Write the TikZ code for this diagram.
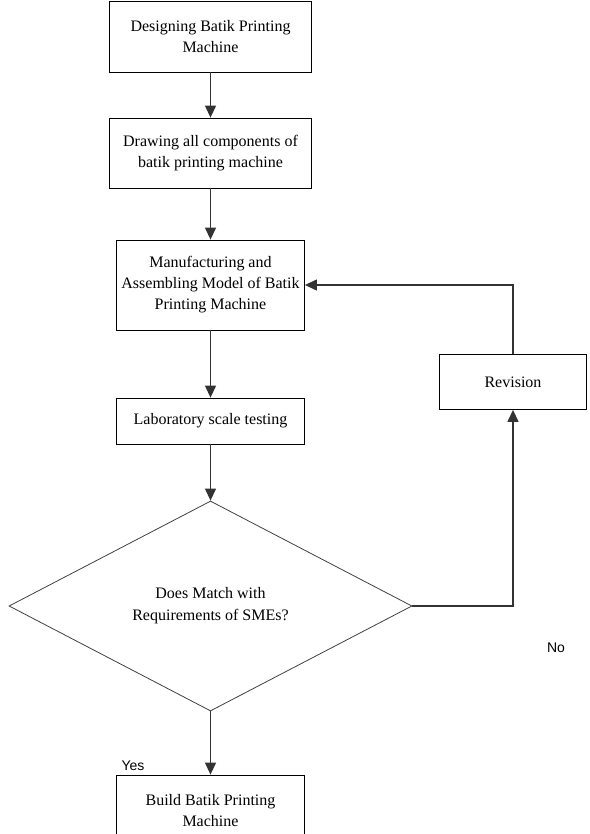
\documentclass[tikz,border=0pt]{standalone}
\usepackage{fontspec}
\setmainfont{Liberation Serif}
\newfontfamily\labelfont{Liberation Sans}
\usetikzlibrary{shapes.geometric,arrows.meta}
\tikzset{
  stepbox/.style={draw=black, line width=0.8pt, align=center, font=\fontsize{16}{21}\selectfont, inner sep=1pt},
  decision/.style={draw=black!75, line width=0.8pt, diamond, aspect=2, inner sep=0pt, align=center, font=\fontsize{16}{22}\selectfont},
  flow/.style={draw=black!80, line width=1.2pt, -{Triangle[width=11pt,length=12pt]}},
  lbl/.style={font=\labelfont\fontsize{14}{16}\selectfont}
}
\begin{document}
\begin{tikzpicture}[x=1pt,y=-1pt]
\useasboundingbox (0,0) rectangle (589,834);
\clip (0,0) rectangle (589,834);
\node[stepbox, minimum width=202pt, minimum height=71pt] (b1) at (210.5,36.5) {Designing Batik Printing\\Machine};
\node[stepbox, minimum width=202pt, minimum height=70pt] (b2) at (210.5,153) {Drawing all components of\\batik printing machine};
\node[stepbox, minimum width=188pt, minimum height=90pt] (b3) at (210.5,285) {Manufacturing and\\Assembling Model of Batik\\Printing Machine};
\node[stepbox, minimum width=188pt, minimum height=46pt] (b4) at (210.5,421) {Laboratory scale testing};
\node[decision, minimum width=403pt, minimum height=210pt] (d) at (210.5,606) {Does Match with\\Requirements of SMEs?};
\node[stepbox, minimum width=147pt, minimum height=55pt] (rev) at (513,382) {Revision};
\node[stepbox, minimum width=188pt, minimum height=72pt] (b5) at (210.5,811) {Build Batik Printing\\Machine};
\coordinate (c1) at (d.east -| rev.south);
\coordinate (c2) at (rev.north |- b3.east);
\draw[flow] (b1) -- (b2);
\draw[flow] (b2) -- (b3);
\draw[flow] (b3) -- (b4);
\draw[flow] (b4) -- (d.north);
\draw[flow] (d.south) -- (b5);
\draw[flow] (d.east) -- (c1) -- (rev.south);
\draw[flow] (rev.north) -- (c2) -- (b3.east);
\node[lbl] (no) at (556,648) {No};
\node[lbl] (yes) at (133,766) {Yes};
\end{tikzpicture}
\end{document}
